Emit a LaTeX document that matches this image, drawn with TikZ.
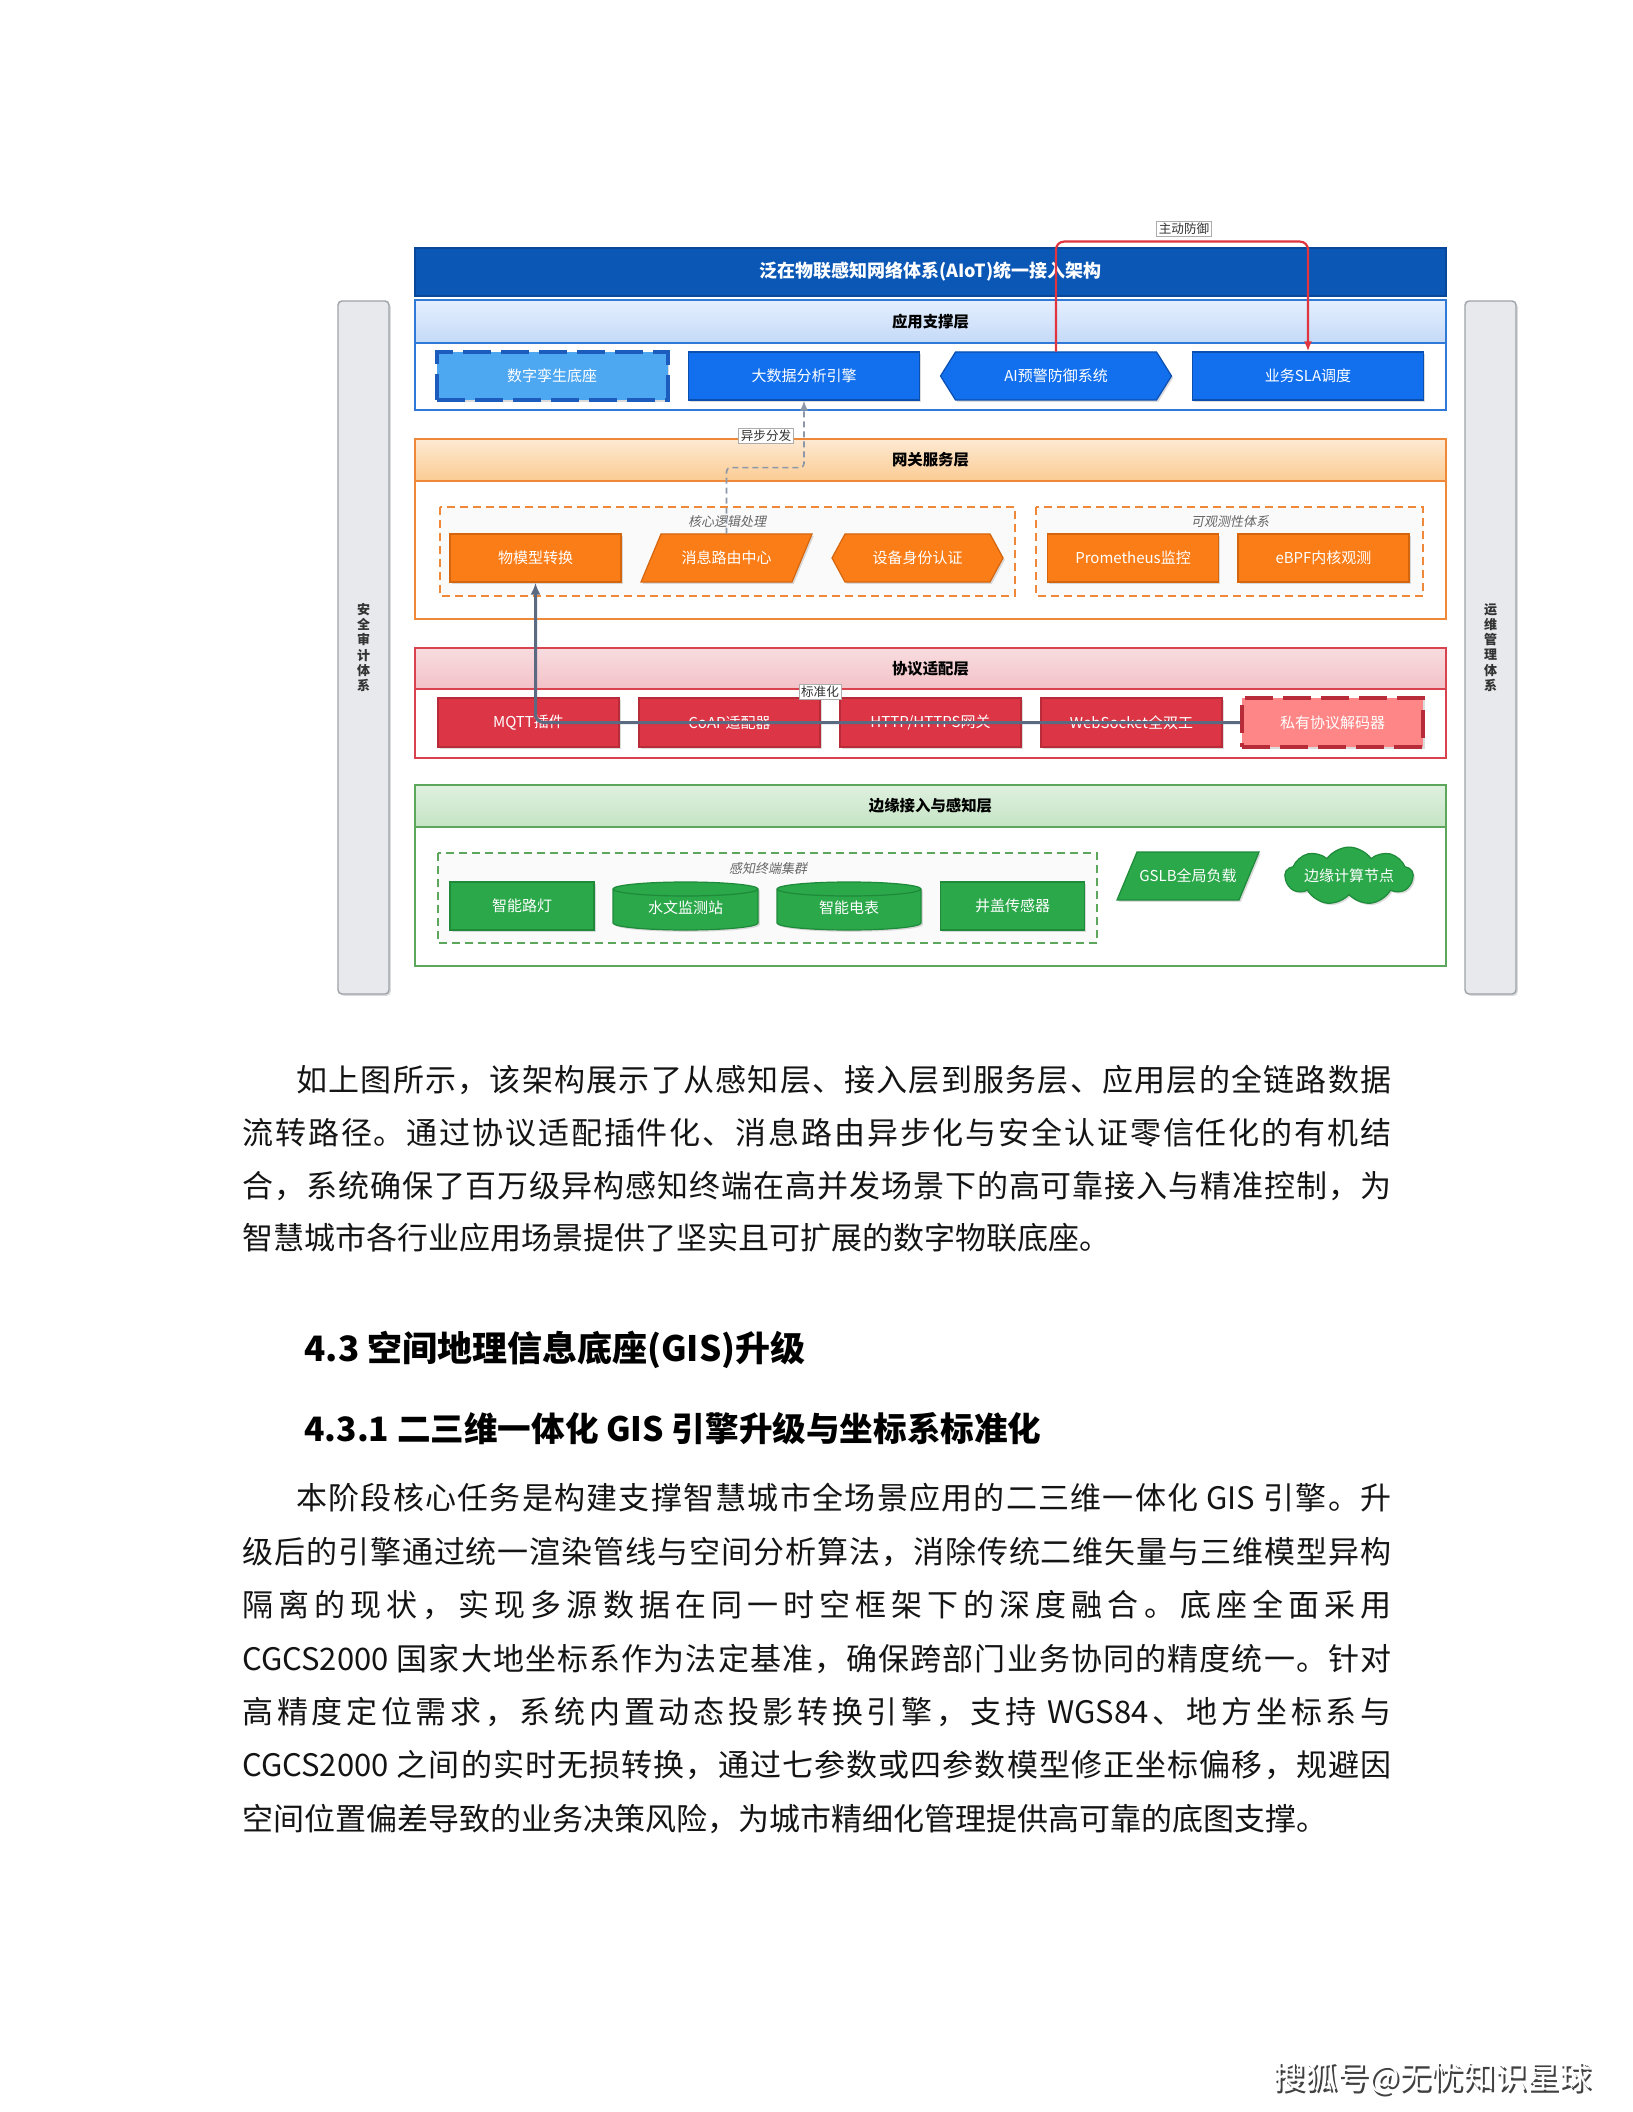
\documentclass[tikz,border=0pt]{standalone}
\usepackage{fontspec}
\setmainfont{Noto Sans CJK SC}
\newfontfamily\cjkit[FakeSlant=0.2]{Noto Sans CJK SC}
\usetikzlibrary{shapes.symbols,shadows,arrows.meta}
\ExplSyntaxOn
\NewDocumentCommand\spreadit{m}{ \tl_map_inline:nn {#1} { ##1 \hfil } \unskip }
\ExplSyntaxOff
\newcommand\fullline[1]{\makebox[574.5pt][s]{\spreadit{#1}}}
\newcommand\indline[1]{\makebox[547.5pt][s]{\spreadit{#1}}}

\definecolor{titleblue}{HTML}{0B57B5}
\definecolor{titleblueD}{HTML}{08479A}
\definecolor{appborder}{HTML}{3079D6}
\definecolor{apptop}{HTML}{E4EFFE}
\definecolor{appbot}{HTML}{C4DAF8}
\definecolor{appblue}{HTML}{1270EE}
\definecolor{appblueD}{HTML}{0B4FB0}
\definecolor{twinblue}{HTML}{4DA7F1}
\definecolor{twinD}{HTML}{1B5CBD}
\definecolor{orgborder}{HTML}{F0883A}
\definecolor{orgtop}{HTML}{FDE9D2}
\definecolor{orgbot}{HTML}{FBCB92}
\definecolor{orgnode}{HTML}{FB7D17}
\definecolor{orgD}{HTML}{D5660E}
\definecolor{redborder}{HTML}{D9434E}
\definecolor{redtop}{HTML}{F8DCDF}
\definecolor{redbot}{HTML}{F2C2C8}
\definecolor{rednode}{HTML}{DC3545}
\definecolor{redD}{HTML}{B82B38}
\definecolor{pvtfill}{HTML}{FF8686}
\definecolor{grnborder}{HTML}{5CA75C}
\definecolor{grntop}{HTML}{DFF0DF}
\definecolor{grnbot}{HTML}{C4E4C4}
\definecolor{grnnode}{HTML}{2AA84A}
\definecolor{grnD}{HTML}{1E8A3A}
\definecolor{sidefill}{HTML}{E7E9EC}
\definecolor{sidedraw}{HTML}{9EA3A8}
\definecolor{slate}{HTML}{5B6A80}
\definecolor{dashgray}{HTML}{8C97A8}
\definecolor{redline}{HTML}{E0343F}
\definecolor{grpfill}{HTML}{FAFAFA}

\tikzset{
  sz/.style 2 args={minimum width=#1*0.5pt, minimum height=#2*0.5pt},
  shad/.style={drop shadow={shadow xshift=0.9pt, shadow yshift=-0.9pt, opacity=0.28}},
  nd/.style={rectangle, inner sep=0pt, text=white, font=\fontsize{7.5}{9}\selectfont, line width=0.6pt},
  txt/.style={rectangle, inner sep=0pt, text=white, font=\fontsize{7.5}{9}\selectfont},
  bnode/.style={nd, shad, fill=appblue, draw=appblueD},
  onode/.style={nd, shad, fill=orgnode, draw=orgD},
  rnode/.style={nd, shad, fill=rednode, draw=redD},
  gnode/.style={nd, shad, fill=grnnode, draw=grnD},
  hdrtxt/.style={inner sep=0pt, text=black, font=\fontsize{7.7}{9}\selectfont\bfseries},
  grp/.style={dash pattern=on 4pt off 2.5pt, line width=0.75pt, fill=grpfill},
  grplbl/.style={inner sep=0pt, text=black!60, font=\cjkit\fontsize{6.5}{8}\selectfont},
  elabel/.style={draw=gray!65, fill=white, line width=0.4pt, inner sep=1pt, text=black!80, font=\fontsize{6.3}{7}\selectfont},
  sideb/.style={rectangle, rounded corners=2pt, fill=sidefill, draw=sidedraw, line width=0.7pt, shad, align=center, inner sep=0pt, text=black!80, font=\fontsize{6.5}{7.6}\selectfont\bfseries},
  body/.style={inner sep=0pt, anchor=west, text=black!92, font=\fontsize{15.5}{18}\selectfont},
  head/.style={inner sep=0pt, anchor=west, text=black, font=\fontsize{17.5}{20}\selectfont\bfseries},
}

\begin{document}
\begin{tikzpicture}[x=0.5pt,y=0.5pt]
\useasboundingbox (0,0) rectangle (1632,-2112);
\fill[white] (0,0) rectangle (1632,-2112);

% side bars
\node[sideb, sz={51}{693}] (sec) at (363.5,-647.5) {安\\全\\审\\计\\体\\系};
\node[sideb, sz={51}{693}] (ops) at (1490.5,-647.5) {运\\维\\管\\理\\体\\系};

% title
\node[rectangle, fill=titleblue, draw=titleblueD, line width=0.6pt, sz={1031}{48}, text=white, font=\fontsize{9}{11}\selectfont\bfseries] (title) at (930.5,-272) {泛在物联感知网络体系(AIoT)统一接入架构};

% ===== application layer
\draw[draw=appborder, line width=1pt, fill=white] (415,-300) rectangle (1446,-410);
\shade[top color=apptop, bottom color=appbot] (415.5,-300.5) rectangle (1445.5,-343);
\draw[draw=appborder, line width=1pt] (415,-300) rectangle (1446,-410) (415,-343) -- (1446,-343);
\node[hdrtxt] (apph) at (930.5,-321.5) {应用支撑层};

\node[nd, shad, fill=twinblue, draw=twinD, line width=2pt, dash pattern=on 14pt off 5pt, sz={231}{48}] (twin) at (552,-376) {数字孪生底座};
\node[bnode, sz={231}{48}] (bigdata) at (804,-376) {大数据分析引擎};
\path[fill=appblue, draw=appblueD, line width=0.6pt, shad] (940.5,-376) -- (955.5,-352) -- (1156.5,-352) -- (1171.5,-376) -- (1156.5,-400) -- (955.5,-400) -- cycle;
\node[txt, sz={231}{48}] (ai) at (1056,-376) {AI预警防御系统};
\node[bnode, sz={231}{48}] (sla) at (1308,-376) {业务SLA调度};

% ===== gateway layer
\draw[draw=orgborder, line width=1pt, fill=white] (415,-439) rectangle (1446,-619);
\shade[top color=orgtop, bottom color=orgbot] (415.5,-439.5) rectangle (1445.5,-481);
\draw[draw=orgborder, line width=1pt] (415,-439) rectangle (1446,-619) (415,-481) -- (1446,-481);
\node[hdrtxt] (gwh) at (930.5,-460) {网关服务层};

\draw[grp, draw=orgborder] (440,-507) rectangle (1015,-596);
\node[grplbl] (corelbl) at (727,-522) {核心逻辑处理};
\draw[grp, draw=orgborder] (1036,-507) rectangle (1423,-596);
\node[grplbl] (obslbl) at (1230,-522) {可观测性体系};

\node[onode, sz={171}{48}] (wmx) at (535.5,-558) {物模型转换};
\path[fill=orgnode, draw=orgD, line width=0.6pt, shad] (641,-582) -- (661,-534) -- (812,-534) -- (792,-582) -- cycle;
\node[txt, sz={171}{48}] (msg) at (726.5,-558) {消息路由中心};
\path[fill=orgnode, draw=orgD, line width=0.6pt, shad] (832,-558) -- (845,-534) -- (990,-534) -- (1003,-558) -- (990,-582) -- (845,-582) -- cycle;
\node[txt, sz={171}{48}] (dev) at (917.5,-558) {设备身份认证};
\node[onode, sz={171}{48}] (prom) at (1133,-558) {Prometheus监控};
\node[onode, sz={171}{48}] (ebpf) at (1323.5,-558) {eBPF内核观测};

% ===== protocol layer
\draw[draw=redborder, line width=1pt, fill=white] (415,-648) rectangle (1446,-758);
\shade[top color=redtop, bottom color=redbot] (415.5,-648.5) rectangle (1445.5,-689);
\draw[draw=redborder, line width=1pt] (415,-648) rectangle (1446,-758) (415,-689) -- (1446,-689);
\node[hdrtxt] (prh) at (930.5,-668.5) {协议适配层};

\node[rnode, sz={181}{49}] (mqtt) at (528.5,-722.5) {MQTT插件};
\node[rnode, sz={181}{49}] (coap) at (729.5,-722.5) {CoAP适配器};
\node[rnode, sz={181}{49}] (http) at (930.5,-722.5) {HTTP/HTTPS网关};
\node[rnode, sz={181}{49}] (ws) at (1131.5,-722.5) {WebSocket全双工};
\node[nd, shad, fill=pvtfill, draw=redD, line width=2pt, dash pattern=on 14pt off 5pt, sz={181}{49}] (pvt) at (1332.5,-722.5) {私有协议解码器};

% ===== edge layer
\draw[draw=grnborder, line width=1pt, fill=white] (415,-785) rectangle (1446,-966);
\shade[top color=grntop, bottom color=grnbot] (415.5,-785.5) rectangle (1445.5,-827);
\draw[draw=grnborder, line width=1pt] (415,-785) rectangle (1446,-966) (415,-827) -- (1446,-827);
\node[hdrtxt] (edh) at (930.5,-806) {边缘接入与感知层};

\draw[grp, draw=grnborder] (438,-853) rectangle (1097,-943);
\node[grplbl] (senslbl) at (768,-869) {感知终端集群};

\node[gnode, sz={144}{48}] (lamp) at (522,-906) {智能路灯};
\path[fill=grnnode, draw=grnD, line width=0.6pt, shad] (613,-889) -- (613,-923) arc[start angle=180, end angle=360, x radius=72.5, y radius=7] -- (758,-889) arc[start angle=0, end angle=180, x radius=72.5, y radius=7] -- cycle;
\draw[draw=grnD, line width=0.6pt] (613,-889) arc[start angle=180, end angle=360, x radius=72.5, y radius=7];
\node[txt, sz={145}{48}] (hydro) at (685.5,-908) {水文监测站};
\path[fill=grnnode, draw=grnD, line width=0.6pt, shad] (777,-889) -- (777,-923) arc[start angle=180, end angle=360, x radius=72, y radius=7] -- (921,-889) arc[start angle=0, end angle=180, x radius=72, y radius=7] -- cycle;
\draw[draw=grnD, line width=0.6pt] (777,-889) arc[start angle=180, end angle=360, x radius=72, y radius=7];
\node[txt, sz={144}{48}] (meter) at (849,-908) {智能电表};
\node[gnode, sz={144}{48}] (manhole) at (1012.5,-906) {井盖传感器};

\path[fill=grnnode, draw=grnD, line width=0.6pt, shad] (1117,-900) -- (1137,-852) -- (1259,-852) -- (1239,-900) -- cycle;
\node[txt, sz={142}{48}] (gslb) at (1188,-876) {GSLB全局负载};
\node[cloud, cloud puffs=9, cloud puff arc=110, aspect=3.4, fill=grnnode, draw=grnD, line width=0.6pt, shad, inner sep=0pt, sz={128}{36}, text=white, font=\fontsize{7.5}{9}\selectfont] (cloudn) at (1349,-876) {边缘计算节点};

% ===== connectors
\draw[redline, line width=1.1pt, rounded corners=4pt, -{Latex[length=5pt,width=4pt]}] (ai.north) -- ++(0,110) -| (sla.north);
\node[elabel] (lbl1) at (1184,-229) {主动防御};

\draw[dashgray, line width=0.8pt, dash pattern=on 3pt off 2pt, rounded corners=2pt, -{Latex[length=5pt,width=4pt]}] (msg.north) -- ++(0,66) -| (bigdata.south);
\node[elabel] (lbl2) at (766,-436) {异步分发};

\draw[slate, line width=1.5pt, rounded corners=4pt, -{Latex[length=6pt,width=5pt]}] (pvt.west) -| (wmx.south);
\node[elabel] (lbl3) at (820,-692) {标准化};

% ===== body text
\node[body] (p1a) at (296,-1080) {\indline{如上图所示，该架构展示了从感知层、接入层到服务层、应用层的全链路数据}};
\node[body] (p1b) at (242,-1133) {\fullline{流转路径。通过协议适配插件化、消息路由异步化与安全认证零信任化的有机结}};
\node[body] (p1c) at (242,-1186) {\fullline{合，系统确保了百万级异构感知终端在高并发场景下的高可靠接入与精准控制，为}};
\node[body] (p1d) at (242,-1238) {智慧城市各行业应用场景提供了坚实且可扩展的数字物联底座。};

\node[head] (h1) at (304,-1350) {4.3 空间地理信息底座(GIS)升级};
\node[head, font=\fontsize{16.8}{20}\selectfont\bfseries] (h2) at (304,-1429) {4.3.1 二三维一体化 GIS 引擎升级与坐标系标准化};

\node[body] (p2a) at (296,-1498) {\indline{本阶段核心任务是构建支撑智慧城市全场景应用的二三维一体化{\ GIS\ }引擎。升}};
\node[body] (p2b) at (242,-1552) {\fullline{级后的引擎通过统一渲染管线与空间分析算法，消除传统二维矢量与三维模型异构}};
\node[body] (p2c) at (242,-1605) {\fullline{隔离的现状，实现多源数据在同一时空框架下的深度融合。底座全面采用}};
\node[body] (p2d) at (242,-1659) {\fullline{{CGCS2000\ }国家大地坐标系作为法定基准，确保跨部门业务协同的精度统一。针对}};
\node[body] (p2e) at (242,-1712) {\fullline{高精度定位需求，系统内置动态投影转换引擎，支持{\ WGS84}、地方坐标系与}};
\node[body] (p2f) at (242,-1765) {\fullline{{CGCS2000\ }之间的实时无损转换，通过七参数或四参数模型修正坐标偏移，规避因}};
\node[body] (p2g) at (242,-1819) {空间位置偏差导致的业务决策风险，为城市精细化管理提供高可靠的底图支撑。};

% ===== footer mark
\node[inner sep=0pt, text=black!75, font=\fontsize{16}{19}\selectfont] (wm0) at (1434.5,-2080.5) {搜狐号@无忧知识星球};
\node[inner sep=0pt, text=white, font=\fontsize{16}{19}\selectfont] (wm) at (1432.5,-2078) {搜狐号@无忧知识星球};
\end{tikzpicture}
\end{document}
